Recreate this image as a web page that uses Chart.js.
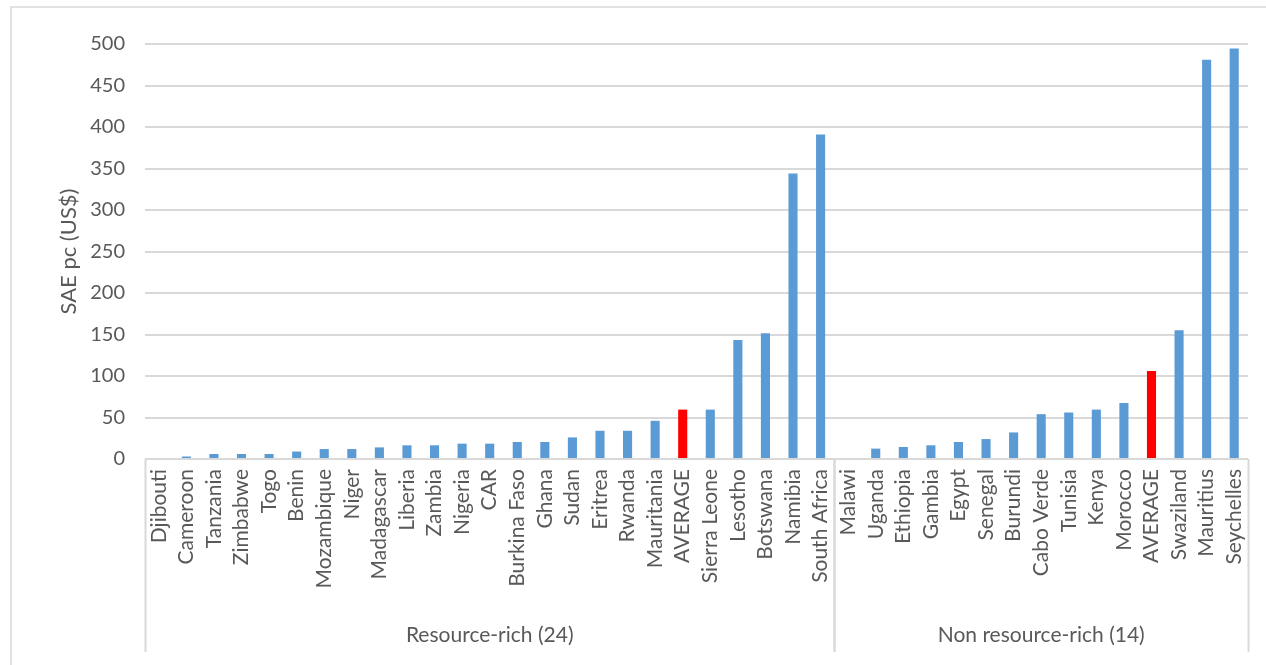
<!DOCTYPE html>
<html>
<head>
<meta charset="utf-8">
<script src="https://cdn.jsdelivr.net/npm/chart.js@4.4.0/dist/chart.umd.min.js"></script>
<style>
    html, body { margin: 0; padding: 0; background: #fff; }
    #wrap { width: 1266px; height: 665px; position: relative; }
</style>
</head>
<body>
<div id="wrap"><canvas id="chart-sae"></canvas></div>
<script>
// Resource-rich countries (plus their average), sorted by value
var richNames = ['Djibouti', 'Cameroon', 'Tanzania', 'Zimbabwe', 'Togo', 'Benin', 'Mozambique', 'Niger',
    'Madagascar', 'Liberia', 'Zambia', 'Nigeria', 'CAR', 'Burkina Faso', 'Ghana', 'Sudan', 'Eritrea',
    'Rwanda', 'Mauritania', 'AVERAGE', 'Sierra Leone', 'Lesotho', 'Botswana', 'Namibia', 'South Africa'];
var richValues = [0, 3, 6, 6, 6, 9, 12, 12, 14, 16.5, 16.5, 18.5, 18.5, 20.5, 20.5, 26, 34, 34, 46,
    59.5, 59.5, 143.5, 151.5, 344, 391];

// Non resource-rich countries (plus their average)
var nonRichNames = ['Malawi', 'Uganda', 'Ethiopia', 'Gambia', 'Egypt', 'Senegal', 'Burundi', 'Cabo Verde',
    'Tunisia', 'Kenya', 'Morocco', 'AVERAGE', 'Swaziland', 'Mauritius', 'Seychelles'];
var nonRichValues = [0, 12.5, 14.5, 16.5, 20.5, 24, 32, 54, 56, 59.5, 67.5, 106, 155, 481, 494.5];

var groupNames = ['Resource-rich (24)', 'Non resource-rich (14)'];
var yTicks = [0, 50, 100, 150, 200, 250, 300, 350, 400, 450, 500];

var BLUE = '#5b9bd5';
var RED = '#ff0000';
var TEXT = '#595959';
var LINE = '#d9d9d9';
var FONT = 'Lato, "Liberation Sans", sans-serif';
var AXIS_H = 193;

var labels = richNames.concat(nonRichNames);
var values = richValues.concat(nonRichValues);
var colors = labels.map(function (l) { return l === 'AVERAGE' ? RED : BLUE; });

// second level of the category axis: group names and separators
var groupAxis = {
    id: 'groupAxis',
    afterDraw: function (chart) {
        var ctx = chart.ctx;
        var xs = chart.scales.x;
        var area = chart.chartArea;
        var step = xs.getPixelForValue(1) - xs.getPixelForValue(0);
        var bottom = area.bottom + AXIS_H;
        var sizes = [richNames.length, nonRichNames.length];
        var start = 0;

        ctx.save();
        ctx.strokeStyle = LINE;
        ctx.lineWidth = 1.5;
        // outer frame
        ctx.beginPath();
        ctx.moveTo(11, 700);
        ctx.lineTo(11, 7);
        ctx.lineTo(1300, 7);
        ctx.stroke();

        ctx.lineWidth = 2;
        ctx.fillStyle = TEXT;
        ctx.font = '21px ' + FONT;
        ctx.textAlign = 'center';
        ctx.textBaseline = 'middle';
        for (var g = 0; g < sizes.length; g++) {
            var left = xs.getPixelForValue(start) - step / 2;
            var right = xs.getPixelForValue(start + sizes[g] - 1) + step / 2;
            ctx.beginPath();
            ctx.moveTo(Math.round(left) + 0.5, area.bottom);
            ctx.lineTo(Math.round(left) + 0.5, bottom);
            ctx.moveTo(Math.round(right) + 0.5, area.bottom);
            ctx.lineTo(Math.round(right) + 0.5, bottom);
            ctx.stroke();
            ctx.fillText(groupNames[g], (left + right) / 2, 635);
            start += sizes[g];
        }
        ctx.restore();
    }
};

var chartSae = new Chart(document.getElementById('chart-sae'), {
    type: 'bar',
    data: {
        labels: labels,
        datasets: [{
            data: values,
            backgroundColor: colors,
            barPercentage: 0.33,
            categoryPercentage: 1
        }]
    },
    options: {
        responsive: true,
        maintainAspectRatio: false,
        animation: false,
        layout: { padding: { left: 10, top: 44, right: 18, bottom: 13 } },
        plugins: {
            legend: { display: false },
            tooltip: { enabled: false }
        },
        scales: {
            x: {
                grid: { display: false },
                border: { display: false },
                afterFit: function (scale) { scale.height = AXIS_H; },
                ticks: {
                    autoSkip: false,
                    minRotation: 90,
                    maxRotation: 90,
                    padding: 2,
                    color: TEXT,
                    font: { family: FONT, size: 21 }
                }
            },
            y: {
                min: 0,
                max: 500,
                afterBuildTicks: function (scale) {
                    scale.ticks = yTicks.map(function (v) { return { value: v }; });
                },
                afterFit: function (scale) { scale.width = 135; },
                border: { display: false },
                grid: { color: LINE, lineWidth: 2, drawTicks: false },
                ticks: {
                    padding: 20,
                    color: TEXT,
                    font: { family: FONT, size: 20 }
                },
                title: {
                    display: true,
                    text: 'SAE pc (US$)',
                    color: TEXT,
                    padding: { top: 46, bottom: 0 },
                    font: { family: FONT, size: 22 }
                }
            }
        }
    },
    plugins: [groupAxis]
});
</script>
</body>
</html>
